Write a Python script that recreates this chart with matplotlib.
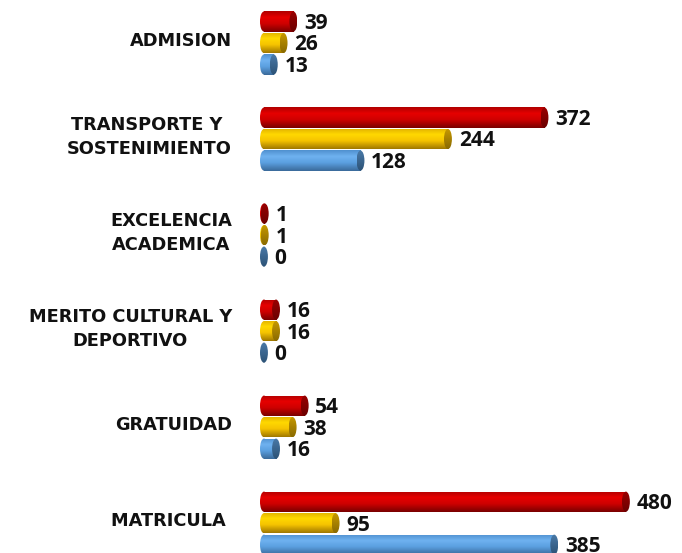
import matplotlib

matplotlib.use("Agg")
import matplotlib.pyplot as plt
import numpy as np
from matplotlib.colors import LinearSegmentedColormap
from matplotlib.patches import Ellipse, Rectangle

categories = ["ADMISION", "TRANSPORTE Y \nSOSTENIMIENTO", "EXCELENCIA\nACADEMICA",
              "MERITO CULTURAL Y\nDEPORTIVO", "GRATUIDAD", "MATRICULA "]
red_vals = [39, 372, 1, 16, 54, 480]
yellow_vals = [26, 244, 1, 16, 38, 95]
blue_vals = [13, 128, 0, 0, 16, 385]

# body gradient (top -> bottom) and end-cap gradient for each series
styles = [
    (["#b00000", "#e60000", "#cf0000", "#7a0000"], ["#9a0000", "#6a0000"]),
    (["#e0b000", "#ffd800", "#f6c400", "#a07800"], ["#c89a00", "#8a6a00"]),
    (["#5090cf", "#6fb2f0", "#5ba0e0", "#3a6a9a"], ["#4a7aa8", "#2c5276"]),
]

fig = plt.figure(figsize=(6.82, 5.53), dpi=100)
ax = fig.add_axes([260 / 682, 0, 422 / 682, 1])
ax.set_axis_off()

bar_h = 0.21
pitch = 0.224
cap_w = 10.5
grad = np.linspace(0, 1, 64).reshape(-1, 1)


def shaded(x0, x1, yc, cmap, clip):
    im = ax.imshow(grad, cmap=cmap, aspect="auto", interpolation="bilinear",
                   extent=(x0, x1, yc + bar_h / 2, yc - bar_h / 2), origin="upper")
    ax.add_patch(clip)
    clip.set_visible(False)
    im.set_clip_path(clip)


for j, vals in enumerate([red_vals, yellow_vals, blue_vals]):
    body = LinearSegmentedColormap.from_list(f"b{j}", list(zip([0, 0.3, 0.6, 1], styles[j][0])))
    capc = LinearSegmentedColormap.from_list(f"c{j}", styles[j][1])
    for i, v in enumerate(vals):
        yc = i + (j - 1) * pitch
        if v > 0:
            shaded(-cap_w / 2, cap_w / 2, yc, body,
                   Ellipse((0, yc), cap_w, bar_h))
            shaded(0, v, yc, body,
                   Rectangle((0, yc - bar_h / 2), v, bar_h))
        shaded(v - cap_w / 2, v + cap_w / 2, yc, capc,
               Ellipse((v, yc), cap_w, bar_h))
        ax.text(v + cap_w / 2 + 9, yc + 0.02, str(v), ha="left", va="center",
                fontsize=15, fontweight="bold", family="Open Sans", color="#111111")

for i, name in enumerate(categories):
    fig.text(232 / 682, 1 - (41 + i * 96) / 553, name, ha="right", va="center",
             multialignment="center", linespacing=1.5,
             fontsize=12.8, fontweight="bold", family="DejaVu Sans", color="#111111")

ax.set_xlim(-cap_w / 2, 554.4)
ax.set_ylim(5.31, -0.448)

fig.savefig("out.png", dpi=100)
